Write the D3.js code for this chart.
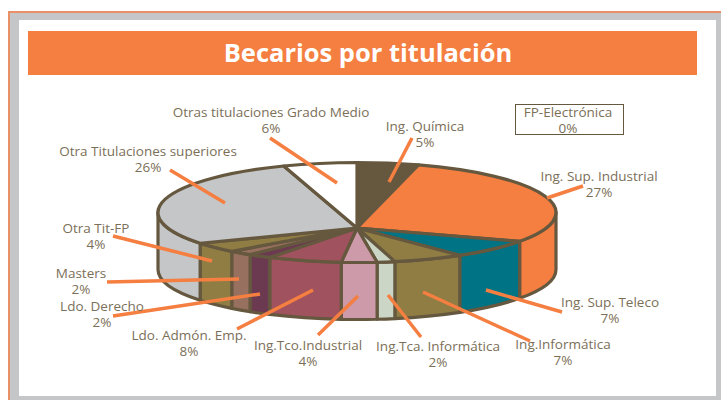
<!DOCTYPE html>
<html>
<head>
<meta charset="utf-8">
<script src="https://cdn.jsdelivr.net/npm/d3@7"></script>
<style>
  html, body { margin: 0; padding: 0; background: #fff; }
  text { font-family: "Open Sans", "Noto Sans", sans-serif; }
</style>
</head>
<body>
<div id="graf"></div>
<script>
// Datos, en sentido horario desde las 12
const categorias = [
  "Ing. Química", "Ing. Sup. Industrial", "Ing. Sup. Teleco", "Ing.Informática",
  "Ing.Tca. Informática", "Ing.Tco.Industrial", "Ldo. Admón. Emp.", "Ldo. Derecho",
  "Masters", "Otra Tit-FP", "Otra Titulaciones superiores",
  "Otras titulaciones Grado Medio", "FP-Electrónica"
]
const valores = [5, 27, 7, 7, 2, 4, 8, 2, 2, 4, 26, 6, 0]
const colores = [
  "#65583f", "#f57e41", "#007384", "#8f7d43", "#cbd6c6", "#cc9aa8", "#a0525f",
  "#6b3a50", "#97705f", "#8f7d43", "#c5c6c8", "#ffffff", "#ffffff"
]

// Colocación de etiquetas: [centro x, y], y guía naranja [x1, y1, x2, y2]
const posEtiquetas = [
  [425, 126], [599, 176], [610, 302], [563, 344], [438, 346], [308, 345], [189, 335],
  [102, 306], [81, 273], [96, 228], [148, 151], [271, 112], [568, 112]
]
const guias = [
  [389, 182, 412, 138], [547, 198, 583, 186], [486, 290, 562, 312], [423, 292, 530, 341],
  [388, 295, 421, 337], [358, 296, 318, 335], [313, 290, 237, 329], [260, 294, 113, 316],
  [239, 279, 107, 282], [212, 261, 113, 236], [225, 203, 170, 170], [337, 183, 270, 138]
]

const ancho = 721
const alto = 400
const cx = 357
const cy = 212.5
const rx = 199
const ry = 50
const apice = [357, 228]
const fondo = 57
const borde = "#65583f"
const naranja = "#f57e41"
const gris = "#c5c6c8"

const svg = d3.select("#graf").append("svg").attr("width", ancho).attr("height", alto)
  .style("display", "block")

// Marco
svg.append("rect").attr("x", 8).attr("y", 11).attr("width", ancho - 8).attr("height", alto - 11)
  .attr("fill", "#ea9066")
svg.append("rect").attr("x", 10).attr("y", 13).attr("width", ancho - 10).attr("height", alto - 13)
  .attr("fill", gris)
svg.append("rect").attr("x", 19).attr("y", 20).attr("width", 697).attr("height", 376)
  .attr("fill", "#fff")

// Título
svg.append("rect").attr("x", 28).attr("y", 31).attr("width", 669).attr("height", 44)
  .attr("fill", naranja)
svg.append("text").attr("x", 368).attr("y", 62).attr("text-anchor", "middle")
  .attr("fill", "#fff").attr("font-size", 25.5).attr("font-weight", 700)
  .text("Becarios por titulación")

// Tarta
const color = d3.scaleOrdinal().domain(categorias).range(colores)
const pie = d3.pie().sort(null).value((d, i) => valores[i])
const porciones = pie(categorias).filter((d) => d.value > 0)

// El frente del gráfico está deformado por la perspectiva: desvío en grados según el ángulo
const desvio = d3.scaleLinear()
  .domain([90, 115, 140, 165, 187, 216, 245, 270])
  .range([0, 10, 8.6, 3.6, -2.6, -10, -12.8, 0])
const corrige = (a) => {
  const g = (a * 180) / Math.PI
  return g > 90 && g < 270 ? a + (desvio(g) * Math.PI) / 180 : a
}
const punto = (a, dy = 0) => {
  const f = corrige(a)
  return [cx + rx * Math.sin(f), cy - ry * Math.cos(f) + dy]
}
const arco = (p, sentido) => `A${rx},${ry} 0 0 ${sentido} ${p[0]},${p[1]}`

// Paredes visibles
const g = svg.append("g").attr("stroke", borde).attr("stroke-width", 3.2).attr("stroke-linejoin", "round")
g.selectAll("path.pared")
  .data(porciones.filter((d) => d.endAngle > Math.PI / 2 && d.startAngle < 1.5 * Math.PI))
  .join("path")
  .attr("class", "pared")
  .attr("fill", (d) => color(d.data))
  .attr("d", (d) => {
    const a0 = Math.max(d.startAngle, Math.PI / 2)
    const a1 = Math.min(d.endAngle, 1.5 * Math.PI)
    return `M${punto(a0)}` + arco(punto(a1), 1) + `L${punto(a1, fondo)}` + arco(punto(a0, fondo), 0) + "Z"
  })

// Cara superior
g.selectAll("path.cara")
  .data(porciones)
  .join("path")
  .attr("class", "cara")
  .attr("fill", (d) => color(d.data))
  .attr("d", (d) => `M${apice}L${punto(d.startAngle)}` + arco(punto(d.endAngle), 1) + "Z")

// Guías
svg.append("g").selectAll("line")
  .data(guias)
  .join("line")
  .attr("x1", (d) => d[0]).attr("y1", (d) => d[1])
  .attr("x2", (d) => d[2]).attr("y2", (d) => d[3])
  .attr("stroke", naranja).attr("stroke-width", 3.5)

// Recuadro de FP-Electrónica
svg.append("rect").attr("x", 515.5).attr("y", 104.5).attr("width", 108).attr("height", 30)
  .attr("fill", "#fff").attr("stroke", borde).attr("stroke-width", 1)

// Etiquetas
const etiquetas = svg.append("g").selectAll("text")
  .data(categorias)
  .join("text")
  .attr("text-anchor", "middle")
  .attr("fill", "#7b6f58")
  .attr("font-size", 13.5)
  .attr("transform", (d, i) => `translate(${posEtiquetas[i][0]},${posEtiquetas[i][1]})`)
etiquetas.append("tspan").attr("x", 0).attr("y", 5).text((d) => d)
etiquetas.append("tspan").attr("x", 0).attr("y", 21).text((d, i) => valores[i] + "%")
</script>
</body>
</html>
